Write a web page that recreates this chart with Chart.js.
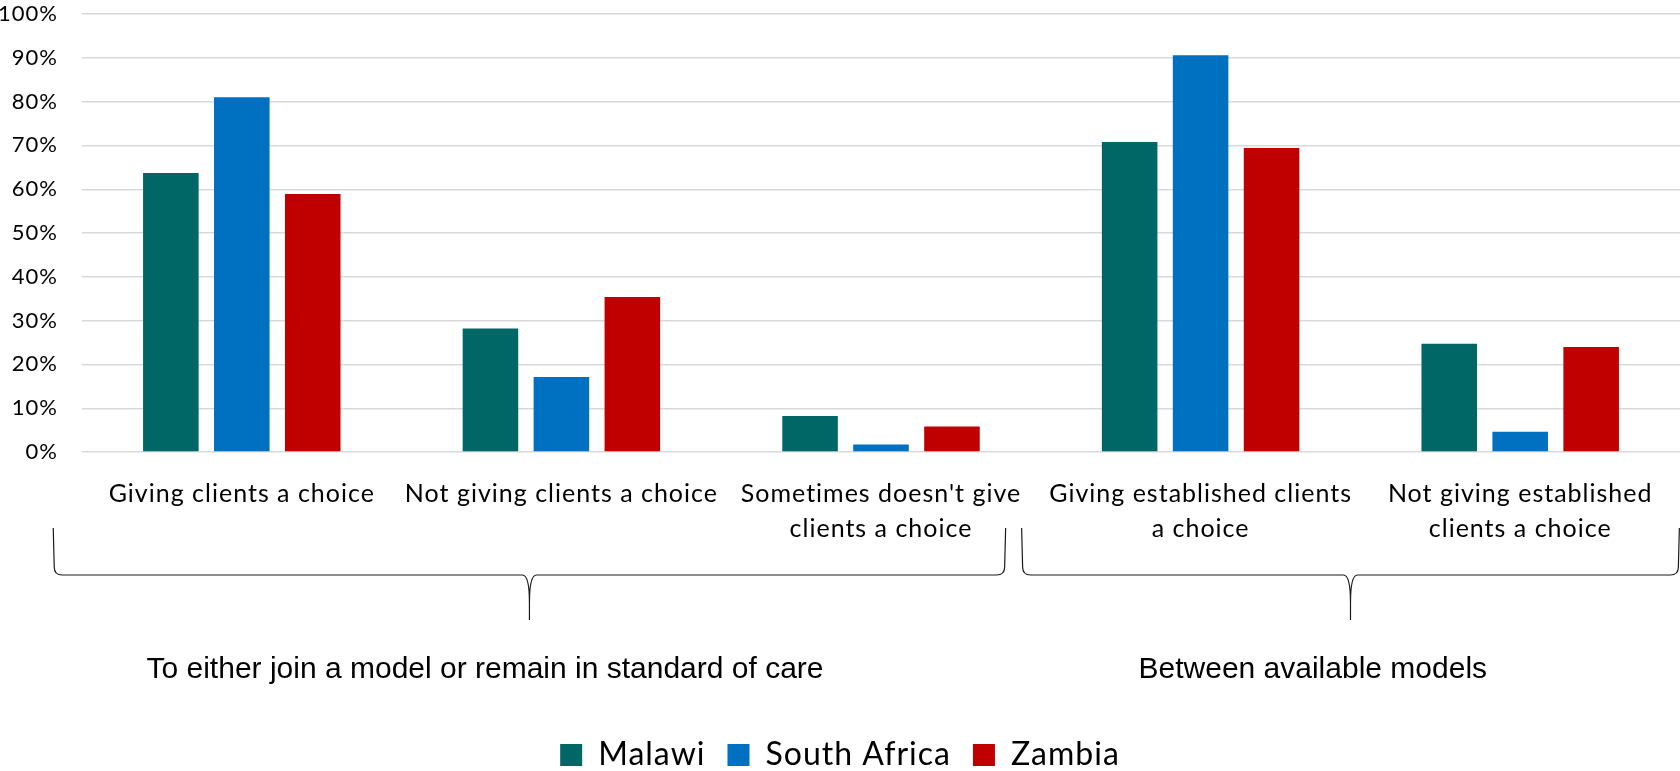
<!DOCTYPE html>
<html>
<head>
<meta charset="utf-8">
<title>Giving clients a choice</title>
<script src="https://cdn.jsdelivr.net/npm/chart.js@4.4.1/dist/chart.umd.min.js"></script>
<style>
  html, body { margin: 0; padding: 0; background: #ffffff; }
  #wrap { width: 1680px; height: 771px; position: relative; }
</style>
</head>
<body>
<div id="wrap"><canvas id="chart" width="1680" height="771"></canvas></div>
<script>
// Categories (multi-line axis labels) and the share of respondents per country, in percent
const categories = [
  ["Giving clients a choice"],
  ["Not giving clients a choice"],
  ["Sometimes doesn't give", "clients a choice"],
  ["Giving established clients", "a choice"],
  ["Not giving established", "clients a choice"]
];
const malawi      = [63.7, 28.2, 8.2, 70.8, 24.7];
const southAfrica = [81.0, 17.1, 1.7, 90.6, 4.6];
const zambia      = [58.9, 35.4, 5.8, 69.4, 24.0];

// Group headings shown under the braces
const groupLabels = [
  "To either join a model or remain in standard of care",
  "Between available models"
];

const COLORS = { malawi: "#006666", southAfrica: "#0070C0", zambia: "#C00000" };

// Braces spanning groups of categories, in category-index units
const braceGroups = [
  { from: -0.59, to: 2.39, labelAt: 0.761, label: 0 },
  { from: 2.44, to: 4.498, labelAt: 3.351, label: 1 }
];

const braceOffsets = { top: 76, mid: 123, tip: 168, text: 226 };

// Slightly open letter spacing for the chart's own text
const spacingPlugin = {
  id: "letterSpacing",
  beforeUpdate(chart) { chart.ctx.letterSpacing = "1px"; },
  beforeLayout(chart) { chart.ctx.letterSpacing = "1px"; },
  beforeDraw(chart) { chart.ctx.letterSpacing = "1px"; }
};

const bracePlugin = {
  id: "groupBraces",
  afterDraw(chart) {
    const ctx = chart.ctx;
    const x = chart.scales.x;
    const base = chart.chartArea.bottom;
    const yTop = base + braceOffsets.top;
    const yMid = base + braceOffsets.mid;
    const yTip = base + braceOffsets.tip;
    const r = 8;
    ctx.save();
    ctx.letterSpacing = "0px";
    ctx.strokeStyle = "#1a1a1a";
    ctx.lineWidth = 1.2;
    braceGroups.forEach(g => {
      const x0 = x.getPixelForValue(g.from);
      const x1 = x.getPixelForValue(g.to);
      const xm = (x0 + x1) / 2;
      ctx.beginPath();
      ctx.moveTo(x0, yTop);
      ctx.lineTo(x0 + 1, yMid - r);
      ctx.quadraticCurveTo(x0 + 1, yMid, x0 + 1 + r, yMid);
      ctx.lineTo(xm - 7, yMid);
      ctx.quadraticCurveTo(xm, yMid, xm, yMid + 28);
      ctx.lineTo(xm, yTip);
      ctx.moveTo(xm, yMid + 28);
      ctx.quadraticCurveTo(xm, yMid, xm + 7, yMid);
      ctx.lineTo(x1 - 1 - r, yMid);
      ctx.quadraticCurveTo(x1 - 1, yMid, x1 - 1, yMid - r);
      ctx.lineTo(x1, yTop);
      ctx.stroke();

      ctx.fillStyle = "#000000";
      ctx.font = "30px 'Liberation Sans', Arial, sans-serif";
      ctx.textAlign = "center";
      ctx.textBaseline = "alphabetic";
      ctx.fillText(groupLabels[g.label], x.getPixelForValue(g.labelAt), base + braceOffsets.text);
    });
    ctx.restore();
  }
};

Chart.defaults.font.family = "Lato, 'Open Sans', sans-serif";
Chart.defaults.color = "#000000";

new Chart(document.getElementById("chart"), {
  type: "bar",
  data: {
    labels: categories,
    datasets: [
      { label: "Malawi", data: malawi, backgroundColor: COLORS.malawi },
      { label: "South Africa", data: southAfrica, backgroundColor: COLORS.southAfrica },
      { label: "Zambia", data: zambia, backgroundColor: COLORS.zambia }
    ]
  },
  options: {
    responsive: false,
    animation: false,
    events: [],
    layout: { padding: { top: 14, left: 0, right: 0, bottom: -10 } },
    datasets: { bar: { categoryPercentage: 0.666, barPercentage: 0.783 } },
    scales: {
      x: {
        grid: { display: false, drawTicks: false },
        border: { display: false },
        ticks: {
          padding: 24,
          maxRotation: 0,
          autoSkip: false,
          font: { size: 25, lineHeight: 1.4 },
          color: "#000000"
        },
        afterFit(scale) { scale.height = 265; }
      },
      y: {
        min: 0,
        max: 100,
        grid: { color: "#d9d9d9", lineWidth: 1.4, drawTicks: false },
        border: { display: false },
        ticks: {
          stepSize: 10,
          padding: 24,
          font: { size: 22, lineHeight: 1.0 },
          color: "#000000",
          callback: v => v + "%"
        },
        afterFit(scale) {
          scale.width = 82;
          // the tick labels may overhang the plot edges; keep the plot full height
          scale.paddingTop = 0;
          scale.paddingBottom = 0;
        }
      }
    },
    plugins: {
      legend: {
        position: "bottom",
        labels: {
          boxWidth: 22,
          boxHeight: 22,
          padding: 22,
          font: { size: 32 },
          color: "#000000"
        }
      },
      tooltip: { enabled: false }
    }
  },
  plugins: [spacingPlugin, bracePlugin]
});
</script>
</body>
</html>
